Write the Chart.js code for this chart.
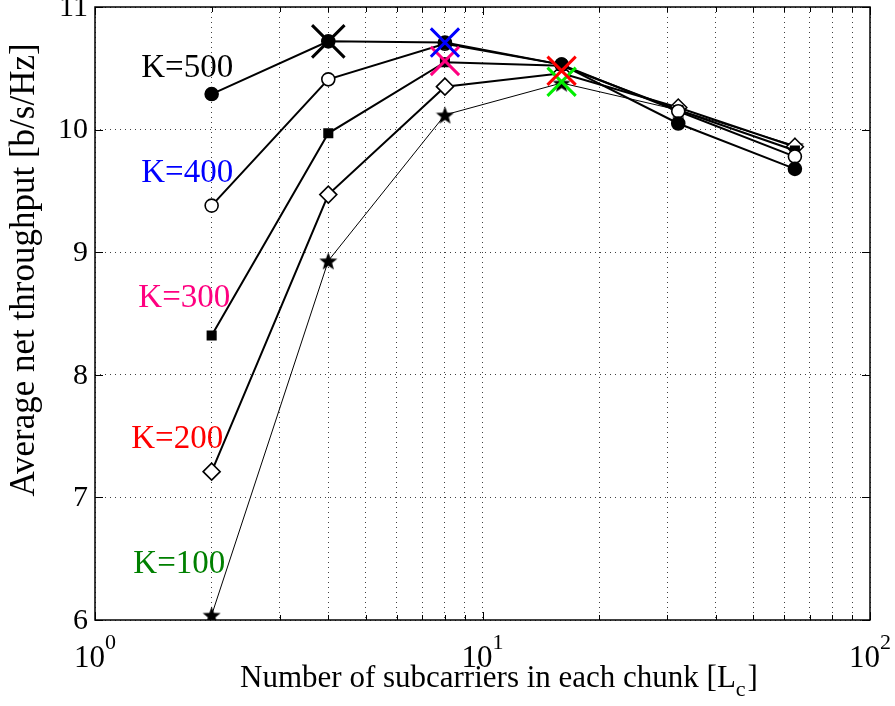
<!DOCTYPE html>
<html><head><meta charset="utf-8">
<script src="https://cdn.jsdelivr.net/npm/chart.js@4/dist/chart.umd.min.js"></script>
<style>html,body{margin:0;padding:0;background:#fff;}#wrap{width:895px;height:706px;}</style>
</head><body><div id="wrap"><canvas id="c" width="895" height="706"></canvas></div>
<script>
// ---- data ----
const chunkSizes = [2, 4, 8, 16, 32, 64];
const k500 = [10.29, 10.72, 10.71, 10.53, 10.05, 9.68];
const k400 = [9.38, 10.41, 10.70, 10.53, 10.15, 9.78];
const k300 = [8.32, 9.97, 10.55, 10.52, 10.16, 9.83];
const k200 = [7.21, 9.47, 10.35, 10.46, 10.18, 9.86];
const k100 = [6.04, 8.93, 10.12, 10.38, 10.16, 9.87];
const optimumX = [4, 8, 8, 16, 16];
const optimumY = [10.72, 10.71, 10.56, 10.48, 10.39];
const curveLabels = ['K=500', 'K=400', 'K=300', 'K=200', 'K=100'];
const labelColors = ['#000000', '#0000ff', '#ff0080', '#ff0000', '#008000'];
const crossColors = ['#000000', '#0000ff', '#ff0080', '#ff0000', '#00ee00'];
const labelAnchorX = [1.73, 1.73, 1.70, 1.63, 1.65];
const labelAnchorY = [10.43, 9.57, 8.55, 7.40, 6.38];
const yTicks = [6, 7, 8, 9, 10, 11];
const xTickExps = [0, 1, 2];
const xGrid = [1,2,3,4,5,6,7,8,9,10,20,30,40,50,60,70,80,90,100];

const SERIF = '"Liberation Serif", "DejaVu Serif", serif';

function starImage(size){
  const c = document.createElement('canvas');
  c.width = size; c.height = size;
  const g = c.getContext('2d');
  const cx = size/2, cy = size/2 + size*0.05, R = size/2, r = R*0.42;
  g.beginPath();
  for (let i = 0; i < 10; i++){
    const ang = -Math.PI/2 + i*Math.PI/5;
    const rad = i % 2 === 0 ? R : r;
    const px = cx + rad*Math.cos(ang), py = cy + rad*Math.sin(ang);
    if (i === 0) g.moveTo(px, py); else g.lineTo(px, py);
  }
  g.closePath();
  g.fillStyle = '#000'; g.fill();
  return c;
}

const pts = arr => chunkSizes.map((v, i) => ({x: v, y: arr[i]}));

function series(arr, style, bg, radius, lw){
  return {
    data: pts(arr), showLine: true, borderColor: '#000', borderWidth: lw,
    pointStyle: style, pointRadius: radius, pointBackgroundColor: bg,
    pointBorderColor: '#000', pointBorderWidth: 1.6, order: 2
  };
}

const datasets = [
  series(k500, 'circle', '#000', 6.5, 2),
  series(k400, 'circle', '#fff', 6.5, 2),
  series(k300, 'rect', '#000', 6, 2),
  series(k200, 'rectRot', '#fff', 8.5, 2),
  series(k100, starImage(19), '#000', 9, 1)
];
optimumX.forEach((xv, i) => {
  datasets.push({
    data: [{x: xv, y: optimumY[i]}], showLine: false,
    pointStyle: 'crossRot', pointRadius: i === 0 ? 23 : 20,
    pointBorderColor: crossColors[i], pointBackgroundColor: crossColors[i],
    pointBorderWidth: 3, order: 1
  });
});

const decor = {
  id: 'decor',
  afterDraw(chart){
    const {ctx, chartArea: a, scales: {x, y}} = chart;
    ctx.save();
    ctx.strokeStyle = '#000'; ctx.lineWidth = 1;
    ctx.beginPath();
    xGrid.forEach(v => {
      const px = Math.round(x.getPixelForValue(v)) + 0.5;
      const len = (v === 1 || v === 10 || v === 100) ? 8 : 5;
      ctx.moveTo(px, a.bottom); ctx.lineTo(px, a.bottom - len);
      ctx.moveTo(px, a.top); ctx.lineTo(px, a.top + len);
    });
    yTicks.forEach(v => {
      const py = Math.round(y.getPixelForValue(v)) + 0.5;
      ctx.moveTo(a.left, py); ctx.lineTo(a.left + 8, py);
      ctx.moveTo(a.right, py); ctx.lineTo(a.right - 8, py);
    });
    ctx.stroke();
    ctx.lineWidth = 1.5;
    ctx.strokeRect(a.left, a.top, a.right - a.left, a.bottom - a.top);

    ctx.fillStyle = '#000';
    ctx.font = '30px ' + SERIF; ctx.textAlign = 'right'; ctx.textBaseline = 'middle';
    yTicks.forEach(v => ctx.fillText(String(v), a.left - 7, y.getPixelForValue(v) + 1));
    ctx.textAlign = 'left'; ctx.textBaseline = 'alphabetic';
    xTickExps.forEach(e => {
      const px = x.getPixelForValue(Math.pow(10, e));
      ctx.font = '31px ' + SERIF;
      const w1 = ctx.measureText('10').width;
      ctx.font = '22px ' + SERIF;
      const w2 = ctx.measureText(String(e)).width;
      const start = px - (w1 + w2) / 2;
      ctx.font = '31px ' + SERIF;
      ctx.fillText('10', start, a.bottom + 47);
      ctx.font = '22px ' + SERIF;
      ctx.fillText(String(e), start + w1, a.bottom + 29);
    });
    ctx.font = '31px ' + SERIF;
    const main = 'Number of subcarriers in each chunk [L';
    const wMain = ctx.measureText(main).width;
    ctx.font = '22px ' + SERIF;
    const wSub = ctx.measureText('c').width;
    ctx.font = '31px ' + SERIF;
    const wEnd = ctx.measureText(']').width;
    const total = wMain + wSub + 2 + wEnd;
    let sx = 499 - total / 2;
    const by = a.bottom + 67;
    ctx.fillText(main, sx, by);
    ctx.font = '22px ' + SERIF;
    ctx.fillText('c', sx + wMain, by + 9);
    ctx.font = '31px ' + SERIF;
    ctx.fillText(']', sx + wMain + wSub + 2, by);
    ctx.save();
    ctx.translate(34, 270);
    ctx.rotate(-Math.PI / 2);
    ctx.font = '35px ' + SERIF;
    ctx.textAlign = 'center'; ctx.textBaseline = 'alphabetic';
    ctx.fillText('Average net throughput [b/s/Hz]', 0, 0);
    ctx.restore();
    ctx.font = '33px ' + SERIF; ctx.textAlign = 'center';
    curveLabels.forEach((t, i) => {
      ctx.fillStyle = labelColors[i];
      ctx.fillText(t, x.getPixelForValue(labelAnchorX[i]), y.getPixelForValue(labelAnchorY[i]));
    });
    ctx.restore();
  }
};

new Chart(document.getElementById('c'), {
  type: 'scatter',
  data: {datasets},
  options: {
    responsive: false, animation: false, devicePixelRatio: 1,
    layout: {autoPadding: false, padding: {left: 95, top: 7, right: 25, bottom: 86}},
    plugins: {legend: {display: false}, tooltip: {enabled: false}},
    scales: {
      x: {
        type: 'logarithmic', min: 1, max: 100,
        afterBuildTicks: s => { s.ticks = xGrid.map(v => ({value: v})); },
        ticks: {display: false},
        grid: {color: 'rgba(0,0,0,0.75)', lineWidth: 1, drawTicks: false},
        border: {display: false, dash: [1, 4]}
      },
      y: {
        type: 'linear', min: 6, max: 11,
        afterBuildTicks: s => { s.ticks = yTicks.map(v => ({value: v})); },
        ticks: {display: false},
        grid: {color: 'rgba(0,0,0,0.75)', lineWidth: 1, drawTicks: false},
        border: {display: false, dash: [1, 4]}
      }
    }
  },
  plugins: [decor]
});
</script>
</body></html>
